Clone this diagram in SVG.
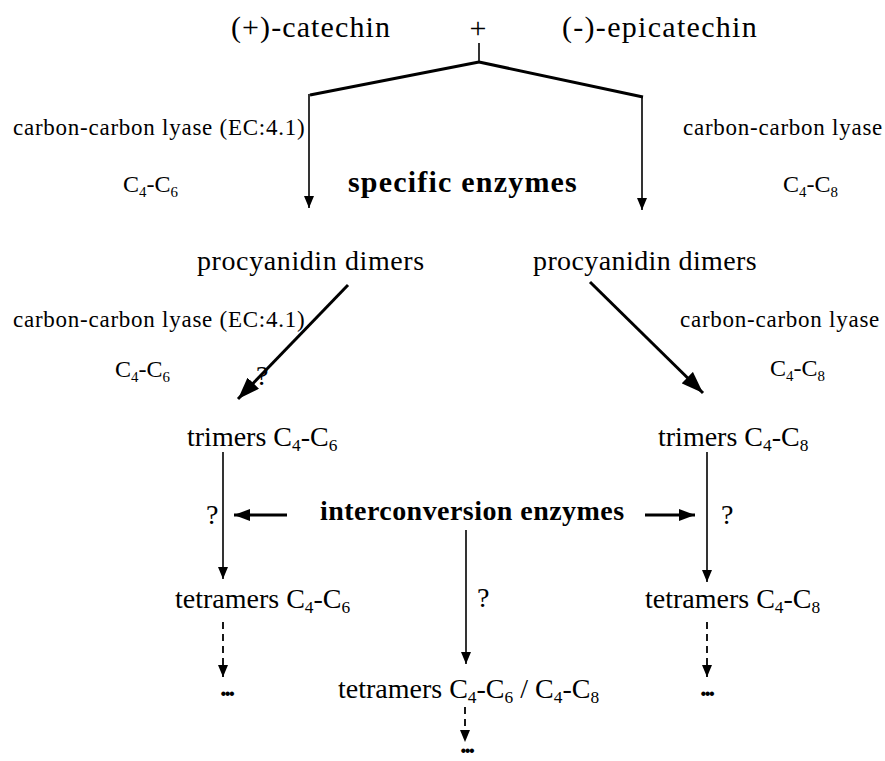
<svg xmlns="http://www.w3.org/2000/svg" width="885" height="761" viewBox="0 0 885 761">
<style>
text{font-family:"Liberation Serif","Times New Roman",serif;fill:#000}
.big{font-size:30px}
.main{font-size:28px}
.lab{font-size:23px;letter-spacing:0.75px}
.cc{font-size:24px}
.bold{font-weight:bold}
.sub{font-size:0.62em}
.thin{fill:none;stroke:#000;stroke-width:1.6}
.thick{fill:none;stroke:#000;stroke-width:3}
.dash{fill:none;stroke:#000;stroke-width:1.8;stroke-dasharray:7 5}
.dots{font-size:27px;font-weight:bold;letter-spacing:-2.5px}
</style>
<defs>
<marker id="ah" viewBox="0 0 12 10" refX="12" refY="5" markerWidth="12" markerHeight="10" markerUnits="userSpaceOnUse" orient="auto"><path d="M0,0 L12,5 L0,10 Z" fill="#000"/></marker>
<marker id="ahb" viewBox="0 0 22 16" refX="22" refY="8" markerWidth="22" markerHeight="16" markerUnits="userSpaceOnUse" orient="auto"><path d="M0,0 L22,8 L0,16 Z" fill="#000"/></marker>
<marker id="ahm" viewBox="0 0 16 12" refX="16" refY="6" markerWidth="16" markerHeight="12" markerUnits="userSpaceOnUse" orient="auto"><path d="M0,0 L16,6 L0,12 Z" fill="#000"/></marker>
</defs>

<g id="catechin"><text class="big" x="231" y="37" letter-spacing="1.1">(+)-catechin</text></g>
<g id="plus"><text class="big" x="478" y="38" text-anchor="middle">+</text></g>
<g id="epicatechin"><text class="big" x="562" y="37" letter-spacing="1.3">(-)-epicatechin</text></g>

<g id="lyase-left-1"><text class="lab" x="13" y="135">carbon-carbon lyase (EC:4.1)</text></g>
<g id="lyase-right-1"><text class="lab" x="683" y="135">carbon-carbon lyase</text></g>
<g id="c46-left-1"><text class="cc" x="123" y="192">C<tspan class="sub" dy="5">4</tspan><tspan dy="-5">-C</tspan><tspan class="sub" dy="5">6</tspan></text></g>
<g id="specific-enzymes"><text class="big bold" x="348" y="192" letter-spacing="1.2">specific enzymes</text></g>
<g id="c48-right-1"><text class="cc" x="783" y="192">C<tspan class="sub" dy="5">4</tspan><tspan dy="-5">-C</tspan><tspan class="sub" dy="5">8</tspan></text></g>

<g id="dimers-left"><text class="main" x="197" y="270" font-size="29" letter-spacing="0.6">procyanidin dimers</text></g>
<g id="dimers-right"><text class="main" x="533" y="270" font-size="29" letter-spacing="0.4">procyanidin dimers</text></g>

<g id="lyase-left-2"><text class="lab" x="13" y="327">carbon-carbon lyase (EC:4.1)</text></g>
<g id="lyase-right-2"><text class="lab" x="680" y="327">carbon-carbon lyase</text></g>
<g id="c46-left-2"><text class="cc" x="115" y="377">C<tspan class="sub" dy="5">4</tspan><tspan dy="-5">-C</tspan><tspan class="sub" dy="5">6</tspan></text></g>
<g id="c48-right-2"><text class="cc" x="770" y="376">C<tspan class="sub" dy="5">4</tspan><tspan dy="-5">-C</tspan><tspan class="sub" dy="5">8</tspan></text></g>
<g id="q-diag"><text class="main" x="256" y="385">?</text></g>

<g id="trimers-left"><text class="main" x="187" y="446">trimers C<tspan class="sub" dy="5">4</tspan><tspan dy="-5">-C</tspan><tspan class="sub" dy="5">6</tspan></text></g>
<g id="trimers-right"><text class="main" x="658" y="446">trimers C<tspan class="sub" dy="5">4</tspan><tspan dy="-5">-C</tspan><tspan class="sub" dy="5">8</tspan></text></g>

<g id="interconversion"><text class="main bold" x="320" y="520" letter-spacing="0.45">interconversion enzymes</text></g>
<g id="q-left"><text class="main" x="206" y="524">?</text></g>
<g id="q-right"><text class="main" x="721" y="524">?</text></g>
<g id="q-mid"><text class="main" x="477" y="607">?</text></g>

<g id="tetramers-left"><text class="main" x="175" y="608">tetramers C<tspan class="sub" dy="5">4</tspan><tspan dy="-5">-C</tspan><tspan class="sub" dy="5">6</tspan></text></g>
<g id="tetramers-right"><text class="main" x="645" y="608">tetramers C<tspan class="sub" dy="5">4</tspan><tspan dy="-5">-C</tspan><tspan class="sub" dy="5">8</tspan></text></g>
<g id="tetramers-mixed"><text class="main" x="338" y="698">tetramers C<tspan class="sub" dy="5">4</tspan><tspan dy="-5">-C</tspan><tspan class="sub" dy="5">6</tspan><tspan dy="-5"> / C</tspan><tspan class="sub" dy="5">4</tspan><tspan dy="-5">-C</tspan><tspan class="sub" dy="5">8</tspan></text></g>

<g id="dots-left"><text class="dots" x="220" y="696">...</text></g>
<g id="dots-right"><text class="dots" x="700" y="696">...</text></g>
<g id="dots-bottom"><text class="dots" x="460" y="753">...</text></g>

<g id="connectors">
<path class="thin" d="M479,43 V62"/>
<path class="thick" d="M479,62 L310,95"/>
<path class="thick" d="M479,62 L643,97"/>
<path class="thin" d="M309,94 V208" marker-end="url(#ah)"/>
<path class="thin" d="M642,96 V210" marker-end="url(#ah)"/>
<path class="thick" d="M348,285 L238,399" marker-end="url(#ahb)"/>
<path class="thick" d="M590,282 L703,393" marker-end="url(#ahb)"/>
<path class="thin" d="M223,452 V579" marker-end="url(#ah)"/>
<path class="thin" d="M707,452 V582" marker-end="url(#ah)"/>
<path class="thick" d="M287,515 H234" marker-end="url(#ahm)"/>
<path class="thick" d="M645,515 H695" marker-end="url(#ahm)"/>
<path class="thin" d="M466,530 V664" marker-end="url(#ah)"/>
<path class="dash" d="M223,622 V677" marker-end="url(#ah)"/>
<path class="dash" d="M707,622 V677" marker-end="url(#ah)"/>
<path class="dash" d="M465,707 V742" marker-end="url(#ah)"/>
</g>
</svg>
